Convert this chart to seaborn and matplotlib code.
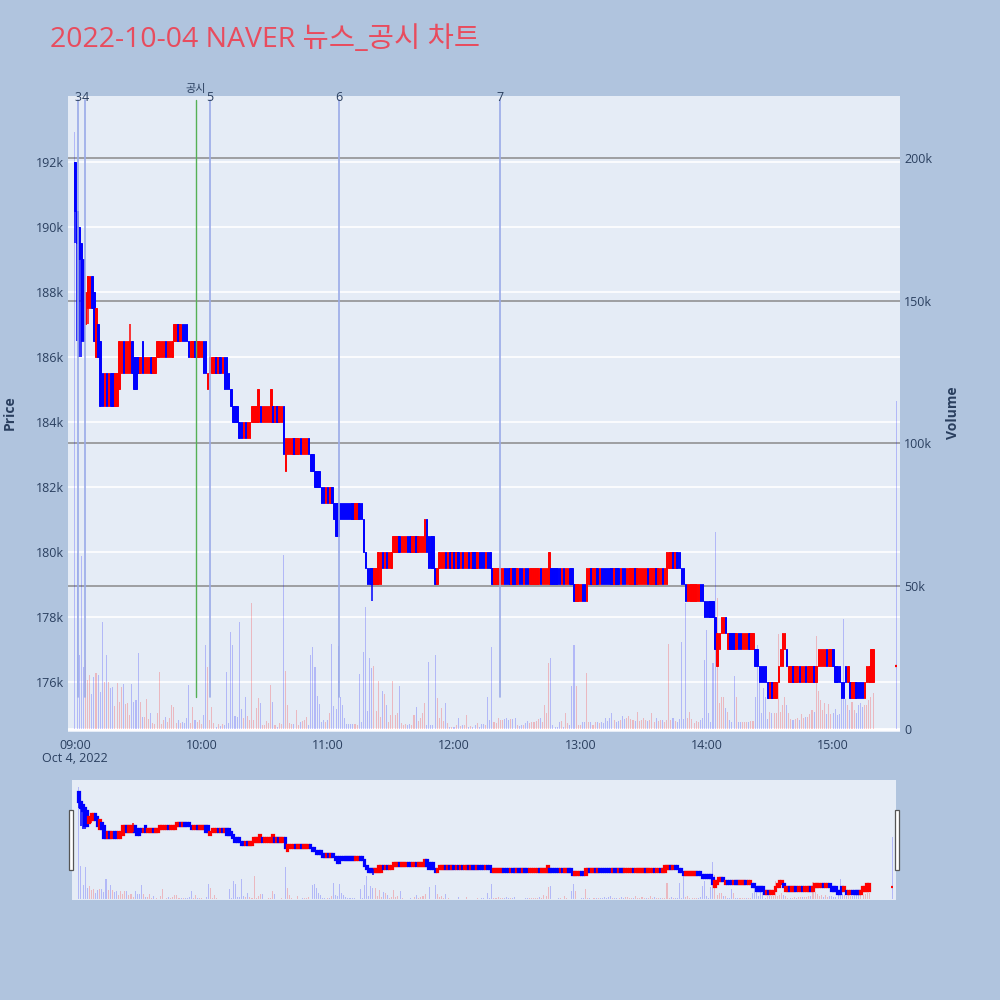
import numpy as np
import pandas as pd
import matplotlib
matplotlib.use("Agg")
import matplotlib.pyplot as plt
import matplotlib.transforms as mtransforms
from matplotlib.patches import Rectangle
import seaborn as sns

# ---------------- data ----------------
TITLE = "2022-10-04 NAVER 뉴스_공시 차트"
SESSION_START = "09:00"          # first one-minute candle

# one-minute candles, price in thousand won
open_k = [
    192.0, 190.5, 190.0, 189.5, 189.0, 187.0, 187.5, 187.5, 188.5, 188.0,
    186.0, 187.0, 186.5, 185.5, 184.5, 185.5, 184.5, 185.5, 185.5, 184.5,
    184.5, 185.0, 185.5, 186.5, 185.5, 185.5, 185.5, 186.5, 186.0, 186.0,
    186.0, 185.5, 186.5, 185.5, 185.5, 185.5, 186.0, 185.5, 185.5, 186.0,
    186.0, 186.0, 186.0, 186.5, 186.0, 186.0, 186.0, 186.5, 186.5, 187.0,
    186.5, 187.0, 187.0, 187.0, 186.5, 186.0, 186.0, 186.5, 186.0, 186.0,
    186.0, 186.5, 186.5, 185.0, 185.5, 185.5, 185.5, 186.0, 185.5, 186.0,
    185.5, 186.0, 186.0, 185.5, 185.0, 184.5, 184.5, 184.5, 184.0, 184.0,
    183.5, 184.0, 183.5, 183.5, 184.0, 184.0, 184.0, 184.0, 184.5, 184.0,
    184.0, 184.0, 184.0, 184.0, 184.5, 184.0, 184.5, 184.0, 184.0, 184.5,
    182.5, 183.0, 183.0, 183.0, 183.5, 183.0, 183.0, 183.5, 183.0, 183.0,
    183.0, 183.5, 183.0, 183.0, 182.5, 182.5, 182.5, 182.0, 182.0, 181.5,
    182.0, 181.5, 182.0, 181.5, 181.5, 181.5, 181.5, 181.5, 181.5, 181.5,
    181.5, 181.5, 181.5, 181.0, 181.0, 181.5, 181.5, 181.0, 180.0, 179.5,
    179.5, 179.5, 179.0, 179.0, 179.0, 179.0, 180.0, 179.5, 180.0, 179.5,
    179.5, 180.0, 180.0, 180.0, 180.5, 180.0, 180.0, 180.0, 180.5, 180.5,
    180.0, 180.0, 180.5, 180.0, 180.0, 180.0, 180.0, 181.0, 180.5, 180.5,
    180.5, 179.5, 179.0, 179.5, 179.5, 179.5, 180.0, 179.5, 180.0, 179.5,
    180.0, 179.5, 180.0, 179.5, 180.0, 179.5, 179.5, 180.0, 179.5, 180.0,
    180.0, 179.5, 180.0, 180.0, 180.0, 179.5, 180.0, 180.0, 179.5, 179.0,
    179.0, 179.0, 179.0, 179.0, 179.5, 179.5, 179.5, 179.0, 179.5, 179.5,
    179.0, 179.5, 179.5, 179.0, 179.5, 179.5, 179.0, 179.0, 179.0, 179.0,
    179.0, 179.5, 179.0, 179.0, 179.0, 179.0, 179.5, 179.5, 179.5, 179.5,
    179.5, 179.0, 179.5, 179.0, 179.0, 179.5, 179.5, 179.0, 178.5, 178.5,
    178.5, 179.0, 179.0, 178.5, 179.0, 179.5, 179.0, 179.0, 179.5, 179.0,
    179.5, 179.5, 179.5, 179.5, 179.5, 179.5, 179.0, 179.5, 179.5, 179.0,
    179.5, 179.5, 179.0, 179.0, 179.0, 179.0, 179.5, 179.0, 179.0, 179.0,
    179.0, 179.0, 179.5, 179.0, 179.0, 179.0, 179.5, 179.0, 179.0, 179.5,
    179.0, 179.0, 179.5, 179.5, 180.0, 179.5, 180.0, 180.0, 179.5, 179.5,
    179.0, 178.5, 178.5, 178.5, 178.5, 178.5, 178.5, 179.0, 179.0, 178.5,
    178.5, 178.5, 178.5, 178.5, 178.0, 176.5, 177.0, 177.5, 177.5, 178.0,
    177.0, 177.5, 177.5, 177.5, 177.0, 177.5, 177.5, 177.0, 177.0, 177.0,
    177.5, 177.0, 177.0, 177.0, 177.0, 176.5, 176.5, 176.5, 176.5, 176.0,
    175.5, 176.0, 175.5, 175.5, 176.0, 176.5, 176.5, 177.0, 177.0, 176.0,
    176.0, 176.5, 176.0, 176.0, 176.5, 176.0, 176.0, 176.5, 176.0, 176.0,
    176.0, 176.5, 176.0, 176.5, 176.5, 176.5, 176.5, 177.0, 176.5, 176.5,
    177.0, 176.5, 176.5, 176.5, 176.0, 176.0, 176.5, 176.0, 176.0, 175.5,
    175.5, 176.0, 176.0, 176.0, 176.0, 175.5, 176.0, 176.0, 176.0, 176.0,
]
close_k = [
    190.5, 189.5, 189.0, 186.5, 186.5, 188.0, 188.5, 188.5, 187.5, 186.5,
    187.5, 186.0, 184.5, 184.5, 185.5, 184.5, 185.5, 184.5, 184.5, 185.5,
    185.5, 186.5, 186.5, 185.5, 186.5, 186.5, 186.5, 185.5, 185.0, 185.0,
    185.5, 186.0, 185.5, 186.0, 186.0, 186.0, 185.5, 186.0, 186.0, 186.5,
    186.5, 186.5, 186.5, 186.0, 186.5, 186.5, 186.5, 187.0, 187.0, 186.5,
    187.0, 186.5, 186.5, 186.5, 186.0, 186.5, 186.5, 186.0, 186.5, 186.5,
    186.5, 185.5, 185.5, 185.5, 186.0, 186.0, 186.0, 185.5, 186.0, 185.5,
    186.0, 185.0, 185.0, 185.0, 184.5, 184.0, 184.0, 184.0, 183.5, 183.5,
    184.0, 183.5, 184.0, 184.0, 184.5, 184.5, 184.5, 185.0, 184.0, 184.5,
    184.5, 184.5, 184.5, 185.0, 184.0, 184.5, 184.0, 184.5, 184.5, 183.0,
    183.5, 183.5, 183.5, 183.5, 183.0, 183.5, 183.5, 183.0, 183.5, 183.5,
    183.5, 183.0, 182.5, 182.5, 182.0, 182.0, 182.0, 181.5, 181.5, 182.0,
    181.5, 182.0, 181.5, 181.0, 180.5, 180.5, 181.0, 181.0, 181.0, 181.0,
    181.0, 181.0, 181.0, 181.5, 181.5, 181.0, 181.0, 180.0, 179.5, 179.0,
    179.0, 179.0, 179.5, 179.5, 180.0, 180.0, 179.5, 180.0, 179.5, 180.0,
    180.0, 180.5, 180.5, 180.5, 180.0, 180.5, 180.5, 180.5, 180.0, 180.0,
    180.5, 180.5, 180.0, 180.5, 180.5, 180.5, 181.0, 180.0, 179.5, 179.5,
    179.5, 179.0, 179.5, 180.0, 180.0, 180.0, 179.5, 180.0, 179.5, 180.0,
    179.5, 180.0, 179.5, 180.0, 179.5, 180.0, 180.0, 179.5, 180.0, 179.5,
    179.5, 180.0, 179.5, 179.5, 179.5, 180.0, 179.5, 179.5, 179.0, 179.5,
    179.5, 179.5, 179.5, 179.5, 179.0, 179.0, 179.0, 179.5, 179.0, 179.0,
    179.5, 179.0, 179.0, 179.5, 179.0, 179.0, 179.5, 179.5, 179.5, 179.5,
    179.5, 179.0, 179.5, 179.5, 179.5, 180.0, 179.0, 179.0, 179.0, 179.0,
    179.0, 179.5, 179.0, 179.5, 179.5, 179.0, 179.0, 178.5, 179.0, 179.0,
    179.0, 178.5, 178.5, 179.5, 179.5, 179.0, 179.5, 179.5, 179.0, 179.5,
    179.0, 179.0, 179.0, 179.0, 179.0, 179.0, 179.5, 179.0, 179.0, 179.5,
    179.0, 179.0, 179.5, 179.5, 179.5, 179.5, 179.0, 179.5, 179.5, 179.5,
    179.5, 179.5, 179.0, 179.5, 179.5, 179.5, 179.0, 179.5, 179.5, 179.0,
    179.5, 180.0, 180.0, 180.0, 179.5, 180.0, 179.5, 179.5, 179.0, 179.0,
    178.5, 179.0, 179.0, 179.0, 179.0, 179.0, 179.0, 178.5, 178.5, 178.0,
    178.0, 178.0, 178.0, 178.0, 177.0, 177.5, 177.5, 178.0, 178.0, 177.5,
    177.5, 177.0, 177.0, 177.0, 177.5, 177.0, 177.0, 177.5, 177.5, 177.5,
    177.0, 177.5, 177.5, 176.5, 176.5, 176.0, 176.0, 176.0, 176.0, 175.5,
    176.0, 175.5, 176.0, 176.0, 176.5, 177.0, 177.5, 177.5, 176.5, 176.5,
    176.5, 176.0, 176.5, 176.5, 176.0, 176.5, 176.5, 176.0, 176.5, 176.5,
    176.5, 176.0, 176.5, 177.0, 177.0, 177.0, 177.0, 176.5, 177.0, 177.0,
    176.5, 176.0, 176.0, 176.0, 175.5, 175.5, 176.0, 176.5, 175.5, 176.0,
    176.0, 175.5, 175.5, 175.5, 175.5, 176.0, 176.5, 176.5, 177.0, 177.0,
]
# minutes (from 09:00) whose shadows reach beyond the body
wick_minute = [0, 1, 2, 3, 6, 26, 141]
wick_high_k = [192.0, 190.5, 190.0, 189.5, 188.5, 187.0, 179.5]
wick_low_k = [189.5, 186.5, 186.0, 186.0, 187.0, 185.5, 178.5]

# one-minute volume, thousand shares
volume_k = [
    209, 61.5, 25.9, 60.6, 21.8, 24.2, 17.1, 18.9, 12.2, 18.3,
    19.5, 18.9, 13.1, 37.6, 16.6, 25.9, 16.6, 14.2, 14.8, 8.1,
    16.2, 9.6, 14.8, 15.7, 8.8, 9.2, 4.9, 15.7, 9.6, 10.1,
    26.7, 9.6, 4.1, 4.1, 10.4, 3.4, 5.5, 2.2, 1.7, 5.5,
    19.8, 1.7, 3.1, 4.3, 2.6, 3.7, 8.4, 7.8, 2.2, 3.1,
    2.2, 2.6, 2.2, 3.7, 15.4, 2.2, 7.8, 3.1, 2.6, 3.1,
    1.7, 4.9, 29.4, 21.8, 3.1, 7.6, 2.2, 0.8, 1.7, 1.1,
    1.7, 1.4, 20.1, 2.2, 34.1, 29.4, 4.6, 4.1, 37.6, 6.9,
    3.7, 11.3, 4.6, 3.1, 44.0, 3.1, 7.2, 10.8, 9.2, 1.4,
    1.4, 2.9, 2.2, 15.4, 9.6, 1.4, 0.8, 2.2, 1.7, 60.9,
    20.3, 8.4, 2.2, 1.7, 1.7, 6.7, 1.4, 2.6, 2.9, 3.1,
    4.3, 1.4, 25.9, 28.6, 21.8, 11.5, 8.8, 2.6, 3.1, 2.6,
    3.1, 5.5, 29.8, 8.1, 6.9, 29.1, 11.3, 8.4, 3.7, 1.9,
    1.9, 1.9, 1.9, 1.7, 1.4, 19.2, 2.6, 27.1, 42.9, 6.4,
    24.7, 21.2, 22.1, 6.4, 16.9, 4.1, 13.4, 12.2, 8.4, 2.6,
    4.9, 16.9, 4.9, 5.7, 15.0, 2.2, 1.4, 1.7, 1.4, 1.9,
    1.4, 4.9, 7.8, 2.9, 3.7, 5.5, 9.2, 1.4, 23.6, 1.4,
    1.4, 25.9, 10.8, 3.7, 7.2, 2.9, 9.2, 2.2, 0.8, 0.8,
    0.8, 1.4, 3.7, 1.1, 1.4, 1.4, 4.9, 0.8, 1.1, 0.8,
    1.4, 2.2, 0.8, 1.9, 1.9, 1.4, 11.3, 3.2, 28.6, 2.6,
    2.0, 3.7, 3.2, 3.2, 3.4, 3.7, 3.2, 3.4, 3.4, 3.7,
    1.4, 1.1, 1.4, 1.4, 2.0, 2.9, 2.0, 2.6, 2.3, 2.9,
    3.4, 3.7, 2.3, 8.4, 5.7, 23.0, 24.7, 1.4, 0.8, 0.8,
    2.6, 2.9, 0.8, 5.7, 2.0, 1.4, 15.0, 29.4, 15.0, 1.4,
    1.4, 2.6, 2.3, 19.5, 2.3, 2.3, 1.4, 2.6, 2.6, 2.0,
    2.6, 2.0, 4.0, 2.9, 3.7, 5.7, 3.2, 2.6, 2.9, 3.2,
    4.6, 3.4, 3.7, 4.6, 3.4, 3.2, 2.9, 6.0, 2.9, 3.2,
    3.7, 3.2, 2.9, 3.2, 5.7, 2.6, 3.7, 2.9, 3.2, 3.2,
    2.3, 3.2, 29.9, 3.2, 3.7, 2.9, 2.6, 3.4, 30.6, 3.4,
    44.0, 3.7, 6.0, 3.4, 2.0, 2.9, 2.6, 3.2, 3.7, 24.2,
    34.7, 5.7, 2.6, 23.0, 69.0, 45.8, 9.0, 11.3, 11.3, 7.2,
    6.0, 3.2, 2.6, 18.6, 11.3, 2.6, 2.6, 2.6, 2.3, 2.6,
    2.6, 2.9, 2.9, 11.3, 29.4, 17.1, 5.7, 14.2, 11.3, 3.4,
    6.0, 5.7, 5.7, 5.7, 33.3, 6.0, 8.4, 11.3, 8.4, 5.7,
    3.4, 3.2, 3.4, 3.7, 3.2, 5.1, 3.7, 4.3, 4.3, 5.1,
    6.6, 6.0, 32.6, 13.3, 10.2, 6.6, 9.0, 5.4, 8.7, 5.4,
    5.7, 6.9, 4.9, 5.4, 11.3, 38.4, 10.5, 8.4, 6.6, 9.6,
    6.6, 5.7, 8.4, 9.0, 7.8, 8.4, 8.4, 10.2, 11.3, 12.5,
]

# closing single-price auction
auction_time = "15:30"
auction_price_k = 176.5
auction_volume_k = 115.0

# news and disclosure markers
news_labels = ["3", "4", "5", "6", "7"]
news_times = ["09:01:25", "09:04:45", "10:04:05", "11:05:25", "12:21:55"]
disclosure_labels = ["공시"]
disclosure_times = ["09:57:30"]

x_tick_times = ["09:00", "10:00", "11:00", "12:00", "13:00", "14:00", "15:00"]
date_label = "Oct 4, 2022"
price_ticks_k = [176, 178, 180, 182, 184, 186, 188, 190, 192]
volume_ticks_k = [0, 50, 100, 150, 200]

# ---------------- style ----------------
PAPER = "#B0C4DE"
PLOT_BG = "#E5ECF6"
FONT_C = "#2a3f5f"
UP, DOWN = "#FF0000", "#0000FF"

sns.set_theme(style="white")
plt.rcParams["font.family"] = ["Open Sans", "Noto Sans CJK KR", "DejaVu Sans"]


def to_min(t):
    parts = [int(p) for p in t.split(":")]
    sec = parts[2] if len(parts) > 2 else 0
    return (parts[0] - 9) * 60 + parts[1] + sec / 60.0


start = to_min(SESSION_START)
df = pd.DataFrame({"minute": np.arange(len(open_k)) + start,
                   "open": open_k, "close": close_k, "volume": volume_k})
df["dir"] = np.where(df["close"] > df["open"], "up", "down")
auction_x = to_min(auction_time)
auction_dir = "up" if auction_price_k > close_k[-1] else "down"
vol_df = pd.concat([df[["minute", "volume", "dir"]],
                    pd.DataFrame({"minute": [auction_x], "volume": [auction_volume_k],
                                  "dir": [auction_dir]})], ignore_index=True)

XLIM = (-3.3, 391.8)
PRICE_LIM = (174.46, 194.03)
VOL_LIM = (-1.05, 221.7)


def draw_candles(axp, lw, width):
    bottoms = np.minimum(df["open"], df["close"])
    heights = (df["close"] - df["open"]).abs()
    colors = np.where(df["dir"] == "up", UP, DOWN)
    axp.bar(df["minute"], heights, bottom=bottoms, width=width, color=colors,
            edgecolor=colors, linewidth=lw, zorder=2)
    wcol = [UP if df["dir"].iloc[int(m)] == "up" else DOWN for m in wick_minute]
    axp.vlines(np.array(wick_minute) + start, wick_low_k, wick_high_k,
               colors=wcol, linewidth=1.1, zorder=2)
    axp.hlines(auction_price_k, auction_x - 0.5, auction_x + 0.5,
               colors=UP, linewidth=1.6, zorder=2)


def draw_volume(axv, shrink):
    sns.histplot(data=vol_df, x="minute", weights="volume", hue="dir",
                 hue_order=["up", "down"], palette={"up": UP, "down": DOWN},
                 discrete=True, shrink=shrink, alpha=0.22, linewidth=0,
                 legend=False, ax=axv, zorder=1)


fig = plt.figure(figsize=(10, 10), dpi=100, facecolor=PAPER)

# ---------------- main panel ----------------
ax_v = fig.add_axes([0.068, 0.268, 0.832, 0.636])
ax_v.set_facecolor(PLOT_BG)
ax_p = ax_v.twinx()
ax_p.set_ylim(*PRICE_LIM)
ax_v.set_ylim(*VOL_LIM)
ax_v.set_xlim(*XLIM)

price_tr = mtransforms.blended_transform_factory(ax_v.transAxes, ax_p.transData)
for p in price_ticks_k:
    ax_v.plot([0, 1], [p, p], transform=price_tr, color="white", lw=1.2, zorder=0.5)
for v in volume_ticks_k[1:]:
    ax_v.axhline(v, color="#8a8a8a", lw=1.1, zorder=0.6)
ax_v.axhline(0, color="white", lw=2, zorder=0.7)

draw_volume(ax_v, 0.5)
draw_candles(ax_p, 0.7, 0.72)

# news / disclosure lines
top_tr = mtransforms.blended_transform_factory(ax_p.transData, ax_p.transAxes)
for lab, t in zip(news_labels, news_times):
    x = to_min(t)
    ax_p.axvline(x, ymin=0.055, ymax=0.994, color="#9AAAE8", lw=1.2, zorder=3)
    ax_p.text(x, 0.998, lab, transform=top_tr, ha="center", va="center",
              fontsize=9, color=FONT_C, zorder=4)
for lab, t in zip(disclosure_labels, disclosure_times):
    x = to_min(t)
    ax_p.axvline(x, ymin=0.055, ymax=0.994, color="#55B055", lw=1.0, zorder=3)
    ax_p.text(x, 1.011, lab, transform=top_tr, ha="center", va="center",
              fontsize=8, color=FONT_C, zorder=4)

# axes formatting
ax_v.set_xticks([to_min(t) for t in x_tick_times])
ax_v.set_xticklabels(x_tick_times)
ax_v.set_xlabel("")
ax_v.set_ylabel("")
ax_v.yaxis.tick_right()
ax_v.set_yticks(volume_ticks_k)
ax_v.set_yticklabels([f"{v}k" if v else "0" for v in volume_ticks_k])
ax_p.yaxis.tick_left()
ax_p.set_yticks(price_ticks_k)
ax_p.set_yticklabels([f"{p}k" for p in price_ticks_k])
ax_p.set_ylabel("")
for a in (ax_v, ax_p):
    for s in a.spines.values():
        s.set_visible(False)
    a.grid(False)
ax_v.tick_params(axis="x", length=0, pad=5, labelsize=9, labelcolor=FONT_C)
ax_v.tick_params(axis="y", length=0, pad=3, labelsize=9, labelcolor=FONT_C,
                 left=False, right=True, labelleft=False, labelright=True)
ax_p.tick_params(axis="y", length=0, pad=3, labelsize=9, labelcolor=FONT_C,
                 left=True, right=False, labelleft=True, labelright=False)

date_tr = mtransforms.blended_transform_factory(ax_v.transData, ax_v.transAxes)
ax_v.text(start, -0.041, date_label, transform=date_tr, ha="center", va="center",
          fontsize=9, color=FONT_C)

fig.text(0.05, 0.96, TITLE, fontsize=20.5, color="#E84C5E", ha="left", va="center")
fig.text(0.010, 0.587, "Price", rotation=90, ha="center", va="center",
         fontsize=10, fontweight="bold", color=FONT_C)
fig.text(0.953, 0.587, "Volume", rotation=90, ha="center", va="center",
         fontsize=10, fontweight="bold", color=FONT_C)

# ---------------- range slider ----------------
ax_s = fig.add_axes([0.072, 0.10, 0.824, 0.12])
ax_s.set_facecolor(PLOT_BG)
ax_s2 = ax_s.twinx()
ax_s.set_xlim(*XLIM)
ax_s.set_ylim(*VOL_LIM)
ax_s2.set_ylim(*PRICE_LIM)
draw_volume(ax_s, 0.5)
draw_candles(ax_s2, 1.6, 0.8)
for a in (ax_s, ax_s2):
    a.set_xticks([])
    a.set_yticks([])
    a.set_xlabel("")
    a.set_ylabel("")
    a.grid(False)
    for s in a.spines.values():
        s.set_visible(False)
for xh in (0.069, 0.895):
    fig.add_artist(Rectangle((xh, 0.13), 0.004, 0.06, transform=fig.transFigure,
                             facecolor="white", edgecolor="#555555", lw=0.9))

fig.savefig("out.png", dpi=100, facecolor=PAPER)
